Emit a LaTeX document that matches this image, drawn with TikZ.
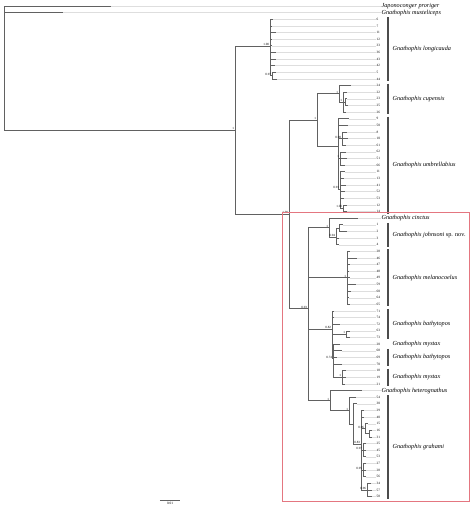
\documentclass[tikz,border=0pt]{standalone}
\usepackage{fontspec}
\setmainfont{Liberation Serif}
\usetikzlibrary{positioning}

\definecolor{boxred}{RGB}{228,118,128}
\tikzstyle{branch} = [draw=black!62, line width=0.7pt]
\tikzstyle{guide} = [draw=black!13, line width=0.35pt]
\tikzstyle{tipnum} = [anchor=west, inner sep=0.4pt, font=\fontsize{3.4}{4}\selectfont]
\tikzstyle{taxon} = [anchor=west, inner sep=0.4pt, font=\fontsize{6.2}{7}\selectfont\itshape]
\tikzstyle{support} = [anchor=south east, inner sep=0.3pt, xshift=-0.5pt, font=\fontsize{3.2}{4}\selectfont]
\tikzstyle{cladebar} = [draw=black!70, line width=1.3pt]

\begin{document}
\begin{tikzpicture}[x=1pt, y=-6.63pt]
  \useasboundingbox (0,-0.905) rectangle (474,76.02);

  % tips with sample numbers
  \foreach \i/\t/\n in {2/273/6, 3/272/7, 4/276/11, 5/272/12, 6/272/33, 7/276/36, 8/276/43, 9/275/42, 10/276/5, 11/277/44,
      12/351/24, 13/347/22, 14/347/23, 15/348/25, 16/346/26,
      17/349/9, 18/348/50, 19/347/8, 20/348/10, 21/346/61, 22/346/62, 23/347/51, 24/345/66,
      25/345/11, 26/344/13, 27/346/41, 28/345/52, 29/344/53, 30/347/12, 31/347/14,
      33/343/1, 34/347/2, 35/339/3, 36/339/4,
      37/350/28, 38/357/46, 39/350/47, 40/349/48, 41/350/49, 42/356/59, 43/351/60, 44/349/64, 45/350/65,
      46/334/71, 47/334/74, 48/340/72, 49/350/63, 50/350/73,
      51/340/20, 52/342/68, 53/337/69, 54/342/70, 55/346/18, 56/346/19, 57/345/21,
      59/356/54, 60/357/30, 61/364/29, 62/364/40, 63/368/15, 64/372/16, 65/372/31,
      66/366/25, 67/366/45, 68/366/53, 69/366/27, 70/366/28, 71/366/56, 72/371/34, 73/372/57, 74/372/58} {
    \coordinate (t\i) at (\t,\i);
    \node[tipnum] (l\i) at (376,\i) {\n};
    \draw[guide] (t\i) -- (l\i.west);
  }
  % tips named by species
  \foreach \i/\t/\n in {0/111/Japonoconger proriger, 1/63/Gnathophis musteliceps,
      32/358/Gnathophis cinctus, 58/362/Gnathophis heterognathus} {
    \coordinate (t\i) at (\t,\i);
    \node[taxon] (l\i) at (381,\i) {\n};
    \draw[guide] (t\i) -- (l\i.west);
  }

  % internal nodes
  \foreach \n/\x/\y in {root/4/0, n1/235/18.74, lon/270/6.06, lon2/272/10.5,
      n2/289/31.43, cu/317/17.19, cup/339/13.25, cup2/343/14.5, cup3/345/14.5,
      umb/338/21.12, umb1/342/20, umb2/340/23, umb3/340/27.58, umb4/343/30.5,
      n3/308/45.67, cj/329/33.42, joh/336/34.83, joh1/339/33.5, mel/347/41,
      bm/332/48.74, bm1/346/49.5, mys/333/53.2, mys1/342/56,
      hg/330/59.52, gra/349/61.03, gra1/353/63.06, gra2/361/66.125,
      gra3/365/63.75, gra7/369/64.5, gra4/363/67, gra5/363/70, gra6/367/73}
    \coordinate (\n) at (\x,\y);

  % branches
  \foreach \p/\c in {root/t0, root/t1, root/n1, n1/lon, n1/n2,
      lon/t2, lon/t3, lon/t4, lon/t5, lon/t6, lon/t7, lon/t8, lon/t9, lon/lon2, lon2/t10, lon2/t11,
      n2/cu, n2/n3, cu/cup, cu/umb,
      cup/t12, cup/cup2, cup2/t13, cup2/cup3, cup2/t16, cup3/t14, cup3/t15,
      umb/t17, umb/t18, umb/umb1, umb/umb2, umb/umb3,
      umb1/t19, umb1/t20, umb1/t21, umb2/t22, umb2/t23, umb2/t24,
      umb3/t25, umb3/t26, umb3/t27, umb3/t28, umb3/t29, umb3/umb4, umb4/t30, umb4/t31,
      n3/cj, n3/mel, n3/bm, n3/hg,
      cj/t32, cj/joh, joh/joh1, joh/t35, joh/t36, joh1/t33, joh1/t34,
      mel/t37, mel/t38, mel/t39, mel/t40, mel/t41, mel/t42, mel/t43, mel/t44, mel/t45,
      bm/t46, bm/t47, bm/t48, bm/bm1, bm/mys, bm1/t49, bm1/t50,
      mys/t51, mys/t52, mys/t53, mys/t54, mys/mys1, mys1/t55, mys1/t56, mys1/t57,
      hg/t58, hg/gra, gra/t59, gra/gra1, gra1/t60, gra1/gra2,
      gra2/t61, gra2/t62, gra2/gra3, gra2/gra4, gra2/gra5, gra2/gra6,
      gra3/t63, gra3/gra7, gra7/t64, gra7/t65,
      gra4/t66, gra4/t67, gra4/t68, gra5/t69, gra5/t70, gra5/t71, gra6/t72, gra6/t73, gra6/t74}
    \draw[branch] (\p) |- (\c);

  % posterior probabilities
  \foreach \n/\s in {n1/1, lon/1.00, lon2/0.97, n2/1.00, cu/1, cup/1, cup2/1,
      umb1/0.98, umb2/1, umb3/0.91, umb4/1.00, n3/0.93, cj/1, joh/0.94, mel/1,
      bm/0.82, bm1/1, mys/0.74, mys1/1, hg/1, gra/1, gra2/0.83,
      gra3/0.96, gra4/0.97, gra5/0.95, gra6/0.96}
    \node[support] (s-\n) at (\n) {\s};

  % species bars
  \foreach \a/\b/\n [count=\k] in {2/11/longicauda, 12/16/cupensis, 17/31/umbrellabius,
      33/36/{johnsoni \upshape sp. nov.}, 37/45/melanocoelus, 46/50/bathytopos,
      52/54/bathytopos, 55/57/mystax, 59/74/grahami} {
    \draw[cladebar] (388,\a-0.3) -- (388,\b+0.3);
    \node[taxon] (sp\k) at (392,{(\a+\b)/2}) {Gnathophis \n};
  }
  \node[taxon] (sp10) at (392,51) {Gnathophis mystax};

  % new clade frame
  \draw[boxred, line width=0.8pt] (282,31.2) rectangle (469,74.66);

  % scale
  \coordinate (sc1) at (160,74.5);
  \coordinate (sc2) at (180,74.5);
  \draw[branch] (sc1) -- (sc2);
  \node[tipnum, anchor=north] (sclab) at (170,74.8) {0.01};
\end{tikzpicture}
\end{document}
